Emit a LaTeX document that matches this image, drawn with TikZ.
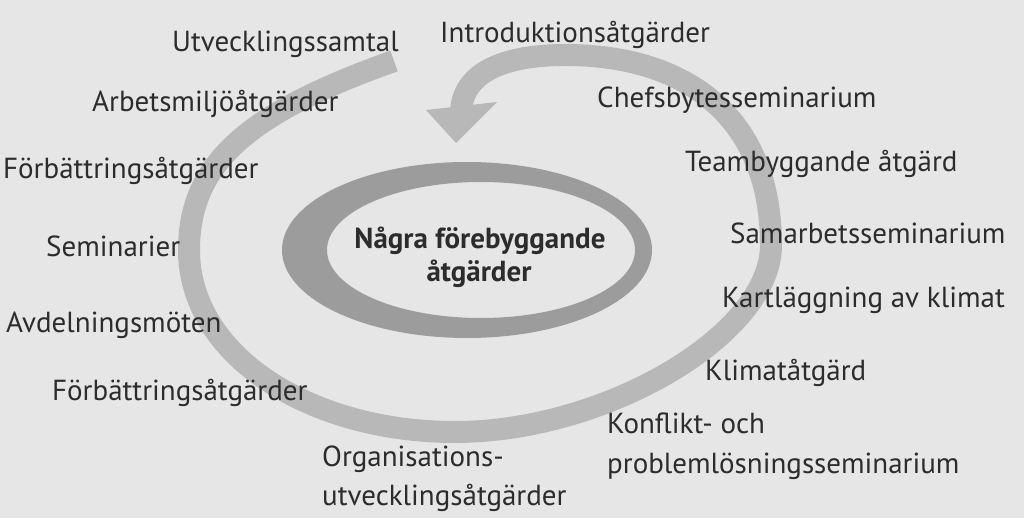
\documentclass[tikz,border=0pt]{standalone}
\usepackage{fontspec}
\setmainfont{PT Sans}
\definecolor{bg}{HTML}{E6E6E6}
\definecolor{txt}{HTML}{2C2C2C}
\definecolor{band}{HTML}{B8B8B8}
\definecolor{ring}{HTML}{9C9C9C}
\tikzset{
  lbl/.style={anchor=base west, inner sep=0pt, text=txt, font=\fontsize{29}{34}\selectfont},
  ctr/.style={anchor=base, inner sep=0pt, text=txt, font=\fontsize{29}{34}\selectfont\bfseries},
  bandline/.style={draw=band, line width=22pt, line cap=butt, line join=round}
}
\begin{document}
\begin{tikzpicture}[x=1pt,y=-1pt]
\useasboundingbox (0,0) rectangle (1024,518);
\fill[bg] (0,0) rectangle (1024,518);

% inner ring (crescent)
\fill[ring, even odd rule] (467,250) ellipse [x radius=185, y radius=88]
                           (481,250) ellipse [x radius=154, y radius=68];

% outer spiral band
\coordinate (tail) at (394,61);
\coordinate (left) at (189,250);
\coordinate (bot)  at (455,432);
\coordinate (right) at (771,245);
\coordinate (top)  at (565,55);
\coordinate (shaft) at (461,114);
\draw[bandline] (tail) .. controls (247,113) and (189,164) .. (left)
  .. controls (189,355) and (309,432) .. (bot)
  .. controls (605,432) and (771,335) .. (right)
  .. controls (771,120) and (690,55) .. (top)
  .. controls (505,55) and (461,72) .. (shaft);
% arrowhead
\fill[band] (426,110) -- (497,102) -- (456,143) -- cycle;

% centre text
\node[ctr] (c1) at (480,249) {Några förebyggande};
\node[ctr] (c2) at (479,282) {åtgärder};

% surrounding labels
\node[lbl] (utv)  at (172,52)  {Utvecklingssamtal};
\node[lbl] (intro) at (440,43) {Introduktionsåtgärder};
\node[lbl] (arb)  at (92,112)  {Arbetsmiljöåtgärder};
\node[lbl] (chef) at (597,108) {Chefsbytesseminarium};
\node[lbl] (forb1) at (3,179)  {Förbättringsåtgärder};
\node[lbl] (team) at (685,172) {Teambyggande åtgärd};
\node[lbl] (sem)  at (46,257)  {Seminarier};
\node[lbl] (samar) at (730,244) {Samarbetsseminarium};
\node[lbl] (kart) at (722,307) {Kartläggning av klimat};
\node[lbl] (avd)  at (6,332)   {Avdelningsmöten};
\node[lbl] (forb2) at (52,400) {Förbättringsåtgärder};
\node[lbl] (klim) at (705,380) {Klimatåtgärd};
\node[lbl] (konf) at (607,433) {Konflikt- och};
\node[lbl] (prob) at (607,473) {problemlösningsseminarium};
\node[lbl] (org)  at (322,466) {Organisations-};
\node[lbl] (orgu) at (322,505) {utvecklingsåtgärder};
\end{tikzpicture}
\end{document}
